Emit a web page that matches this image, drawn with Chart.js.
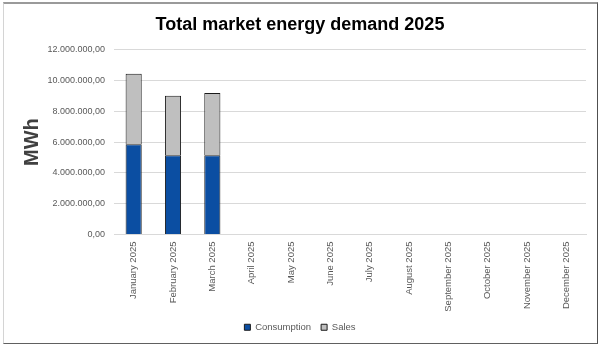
<!DOCTYPE html>
<html>
<head>
<meta charset="utf-8">
<script src="https://cdn.jsdelivr.net/npm/chart.js@4.4.1/dist/chart.umd.min.js"></script>
<style>
  html, body { margin: 0; padding: 0; background: #fff; }
  #wrap { position: relative; width: 600px; height: 347px; }
  #frame {
    position: absolute; left: 3px; top: 2px; width: 595px; height: 342px;
    box-sizing: border-box;
    border-top: 2px solid #9a9a9a;
    border-left: 1px solid #d4d4d4;
    border-right: 1px solid #505050;
    border-bottom: 1px solid #606060;
    pointer-events: none;
  }
</style>
</head>
<body>
<div id="wrap">
  <canvas id="chart" width="600" height="347"></canvas>
  <div id="frame"></div>
</div>
<script>
// ===============================
// DATA
// ===============================
const months = [
  'January 2025', 'February 2025', 'March 2025', 'April 2025',
  'May 2025', 'June 2025', 'July 2025', 'August 2025',
  'September 2025', 'October 2025', 'November 2025', 'December 2025'
];
const consumption = [5850000, 5150000, 5150000, null, null, null, null, null, null, null, null, null];
const sales = [4580000, 3850000, 4030000, null, null, null, null, null, null, null, null, null];
const yTicks = [0, 2000000, 4000000, 6000000, 8000000, 10000000, 12000000];

// ===============================
// HELPERS
// ===============================
function formatDe(value) {
  const [int, dec] = Number(value).toFixed(2).split('.');
  return int.replace(/\B(?=(\d{3})+(?!\d))/g, '.') + ',' + dec;
}

const FONT = "'Liberation Sans', Arial, sans-serif";

// ===============================
// CHART
// ===============================
new Chart(document.getElementById('chart').getContext('2d'), {
  type: 'bar',
  data: {
    labels: months,
    datasets: [
      {
        label: 'Consumption',
        data: consumption,
        backgroundColor: '#0b4ea2',
        borderColor: '#1a1a1a',
        borderWidth: 1
      },
      {
        label: 'Sales',
        data: sales,
        backgroundColor: '#bfbfbf',
        borderColor: '#1a1a1a',
        borderWidth: 1
      }
    ]
  },
  options: {
    responsive: false,
    animation: false,
    layout: { padding: { top: 8, left: 14, right: 14, bottom: 5 } },
    datasets: {
      bar: { categoryPercentage: 1, barPercentage: 0.41 }
    },
    scales: {
      x: {
        stacked: true,
        grid: { display: false, drawTicks: false },
        border: { color: '#d9d9d9' },
        ticks: {
          minRotation: 90,
          maxRotation: 90,
          padding: 7,
          color: '#595959',
          font: { family: FONT, size: 9.5 }
        },
        afterFit: s => { s.height = 78; }
      },
      y: {
        stacked: true,
        min: 0,
        max: 12000000,
        afterBuildTicks: s => { s.ticks = yTicks.map(v => ({ value: v })); },
        grid: { color: '#d9d9d9', drawTicks: false },
        border: { display: false },
        ticks: {
          padding: 9,
          color: '#595959',
          font: { family: FONT, size: 9 },
          callback: v => formatDe(v)
        },
        title: {
          display: true,
          text: 'MWh',
          color: '#404040',
          padding: { top: 6, bottom: 0 },
          font: { family: FONT, size: 20, weight: 'bold' }
        },
        afterFit: s => { s.width = 100; }
      }
    },
    plugins: {
      title: {
        display: true,
        text: 'Total market energy demand 2025',
        color: '#000',
        padding: { top: 6, bottom: 14 },
        font: { family: FONT, size: 18, weight: 'bold' }
      },
      legend: {
        position: 'bottom',
        labels: {
          boxWidth: 6,
          boxHeight: 6,
          padding: 10,
          color: '#595959',
          font: { family: FONT, size: 9.5 }
        }
      },
      tooltip: { enabled: false }
    }
  }
});
</script>
</body>
</html>
